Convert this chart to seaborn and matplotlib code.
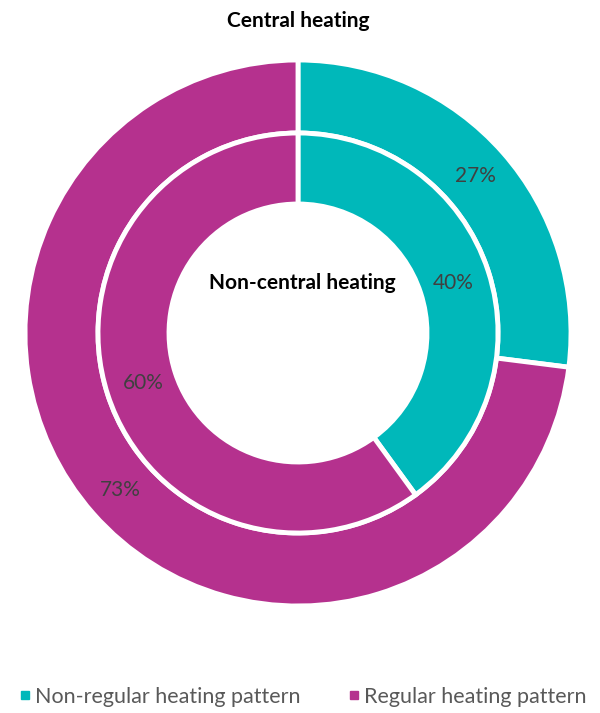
import matplotlib
matplotlib.use("Agg")
import matplotlib.pyplot as plt
from matplotlib.lines import Line2D
import numpy as np
import seaborn as sns

sns.set_theme(style="white")
plt.rcParams['font.family'] = ['Lato', 'DejaVu Sans']

categories = ["Non-regular heating pattern", "Regular heating pattern"]
central = [27, 73]
non_central = [40, 60]
title_outer = "Central heating"
title_inner = "Non-central heating"
colors = sns.color_palette(["#00B8BA", "#B5318E"])

W, H = 600, 713
fig = plt.figure(figsize=(W / 100, H / 100), dpi=100)
cx, cy, R = 298, 333, 273
half = 285
ax = fig.add_axes([(cx - half) / W, (H - cy - half) / H, 2 * half / W, 2 * half / H])
lim = half / R

w_out = 1 - 200 / R
ax.pie(central, radius=1.0, colors=colors, startangle=90, counterclock=False,
       wedgeprops=dict(width=w_out, edgecolor="white", linewidth=3.5))
r_in = 200 / R
ax.pie(non_central, radius=r_in, colors=colors, startangle=90, counterclock=False,
       wedgeprops=dict(width=r_in - 129 / R, edgecolor="white", linewidth=3.5))


def place(vals, r):
    start = 90.0
    for v in vals:
        mid = start - v * 3.6 / 2
        ax.text(r * np.cos(np.radians(mid)), r * np.sin(np.radians(mid)), f"{v}%",
                ha="center", va="center", fontsize=15, color="#404040")
        start -= v * 3.6

place(central, 237 / R)
place(non_central, 163 / R)

ax.set_xlim(-lim, lim)
ax.set_ylim(-lim, lim)
ax.set_aspect("equal")
ax.axis("off")

fig.text(cx / W, 1 - 21 / H, title_outer, ha="center", va="center",
         fontsize=15, fontweight="bold", color="black")
ax.text(4 / R, (cy - 283) / R, title_inner, ha="center", va="center",
        fontsize=15, fontweight="bold", color="black")

handles = [Line2D([0], [0], marker="s", linestyle="none", markersize=6,
                  markerfacecolor=c, markeredgecolor=c) for c in colors]
fig.legend(handles, categories, loc="center", bbox_to_anchor=(303 / W, 1 - 697 / H),
           ncol=2, frameon=False, fontsize=15.5, labelcolor="#595959",
           handletextpad=0.25, columnspacing=2.2, handlelength=0.5,
           borderpad=0, borderaxespad=0)

fig.savefig("out.png", dpi=100)
